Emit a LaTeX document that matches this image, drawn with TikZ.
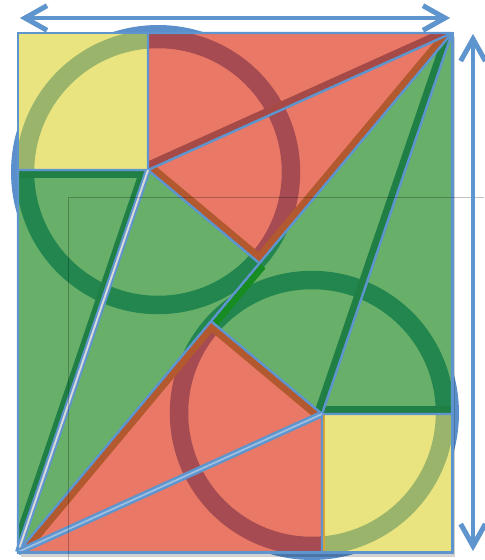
\documentclass[tikz,border=0pt]{standalone}
\usetikzlibrary{calc,arrows.meta}
\definecolor{yel}{HTML}{E9E47F}
\definecolor{redf}{HTML}{E97966}
\definecolor{grn}{HTML}{68B06A}
\definecolor{blu}{HTML}{5E95CE}
\definecolor{ringY}{HTML}{9BB46B}
\definecolor{ringR}{HTML}{A54B51}
\definecolor{ringG}{HTML}{23864F}
\definecolor{brn}{HTML}{B3592F}
\definecolor{dred}{HTML}{A64A47}
\definecolor{dgrn}{HTML}{1F7F45}
\definecolor{bgrn}{HTML}{178C22}
\definecolor{goldb}{HTML}{D9A530}
\definecolor{circB}{HTML}{5B8FCB}
\begin{document}
\begin{tikzpicture}[x=0.02cm,y=-0.02cm,
  outl/.style={draw=blu,line width=1.2pt,line join=round},
  ringline/.style={line width=10.5pt},
  band/.style={line width=9pt},
  dimarrow/.style={draw=blu,line width=2.8pt,line cap=round,
    {Straight Barb[length=12.5pt,width=14pt]}-{Straight Barb[length=12.5pt,width=14pt]}},
  rY1/.style={insert path={(TL)--(Q1)--(P1)--(Q2)--cycle}},
  rY2/.style={insert path={(P2)--(Q4)--(BR)--(Q3)--cycle}},
  rR1a/.style={insert path={(Q1)--(TR)--(P1)--cycle}},
  rR1b/.style={insert path={(P1)--(TR)--(F1)--cycle}},
  rG1a/.style={insert path={(Q2)--(P1)--(BL)--cycle}},
  rG1b/.style={insert path={(P1)--(F1)--(BL)--cycle}},
  rR2a/.style={insert path={(Q3)--(BL)--(P2)--cycle}},
  rR2b/.style={insert path={(P2)--(BL)--(F2)--cycle}},
  rG2a/.style={insert path={(TR)--(Q4)--(P2)--cycle}},
  rG2b/.style={insert path={(P2)--(F2)--(TR)--cycle}}]
\useasboundingbox (0,0) rectangle (484,560);
% key points
\coordinate (TL) at (18,33);
\coordinate (TR) at (452,33);
\coordinate (BR) at (452,552);
\coordinate (BL) at (18,552);
\coordinate (P1) at (148,170);
\coordinate (P2) at (322,414);
\coordinate (Q1) at (148,33);
\coordinate (Q2) at (18,170);
\coordinate (Q3) at (322,552);
\coordinate (Q4) at (452,414);
\coordinate (F1) at ($(BL)!(P1)!(TR)$);
\coordinate (F2) at ($(BL)!(P2)!(TR)$);
\coordinate (C1) at (158,172);
\coordinate (C2) at (312,413);
% blue background discs
\fill[circB] (C1) circle[radius=2.94cm];
\fill[circB] (C2) circle[radius=2.94cm];
% shadow of the frame
\fill[black,opacity=0.18] ($(TL)+(3,4)$) rectangle ($(BR)+(3,5)$);
% regions
\fill[yel,rY1]; \fill[yel,rY2];
\fill[redf,rR1a]; \fill[redf,rR1b]; \fill[redf,rR2a]; \fill[redf,rR2b];
\fill[grn,rG1a]; \fill[grn,rG1b]; \fill[grn,rG2a]; \fill[grn,rG2b];
% rings, coloured by region
\begin{scope}
\clip[rY1,rY2];
\draw[ringY,ringline] (C1) circle[radius=2.66cm] (C2) circle[radius=2.66cm];
\end{scope}
\begin{scope}
\clip[rR1a,rR1b,rR2a,rR2b];
\draw[ringR,ringline] (C1) circle[radius=2.66cm] (C2) circle[radius=2.66cm];
\end{scope}
\begin{scope}
\clip[rG1a,rG1b,rG2a,rG2b];
\draw[ringG,ringline] (C1) circle[radius=2.66cm] (C2) circle[radius=2.66cm];
\end{scope}
% edge bands
\begin{scope}\clip[rR1a]; \draw[dred,band] (P1)--(TR); \end{scope}
\begin{scope}\clip[rR1b]; \draw[brn,band] (P1)--(F1)--(TR); \end{scope}
\begin{scope}\clip[rR2b]; \draw[brn,band] (P2)--(F2)--(BL); \end{scope}
\begin{scope}\clip[rG1a]; \draw[dgrn,band] (Q2)--(P1)--(BL); \end{scope}
\begin{scope}\clip[rG2a]; \draw[dgrn,band] (Q4)--(P2); \end{scope}
\begin{scope}\clip[rG2b]; \draw[dgrn,band] (TR)--(P2); \draw[bgrn,band] (F2)--(F1); \end{scope}
\begin{scope}\clip[rY2]; \draw[goldb,line width=3.5pt] (Q3)--(P2); \end{scope}
% outlines
\draw[outl,rY1]; \draw[outl,rY2];
\draw[outl,rR1a]; \draw[outl,rR1b]; \draw[outl,rR2a]; \draw[outl,rR2b];
\draw[outl,rG1a]; \draw[outl,rG1b]; \draw[outl,rG2a]; \draw[outl,rG2b];
% special double lines
\draw[blu,line width=3.4pt] (BL)--(P1);
\draw[black!15,line width=1.1pt] (BL)--(P1);
\draw[blu,line width=3.8pt] (BL)--(P2);
\draw[blu!60!white,line width=1pt] (BL)--(P2);
% frame
\draw[blu,line width=1.7pt] (TL) rectangle (BR);
% thin grey guide lines
\coordinate (G0) at (68,560);
\coordinate (G1) at (68,197);
\coordinate (G2) at (484,197);
\draw[black,opacity=0.25,line width=0.5pt] (G0)--(G1)--(G2);
% dimension arrows
\coordinate (AL) at (20,18);
\coordinate (AR) at (450,18);
\coordinate (AT) at (473,34);
\coordinate (AB) at (473,551);
\draw[dimarrow,draw=black,opacity=0.15,shift={(1.5,3)}] (AL)--(AR);
\draw[dimarrow,draw=black,opacity=0.15,shift={(3,1.5)}] (AT)--(AB);
\draw[dimarrow] (AL)--(AR);
\draw[dimarrow] (AT)--(AB);
\end{tikzpicture}
\end{document}
